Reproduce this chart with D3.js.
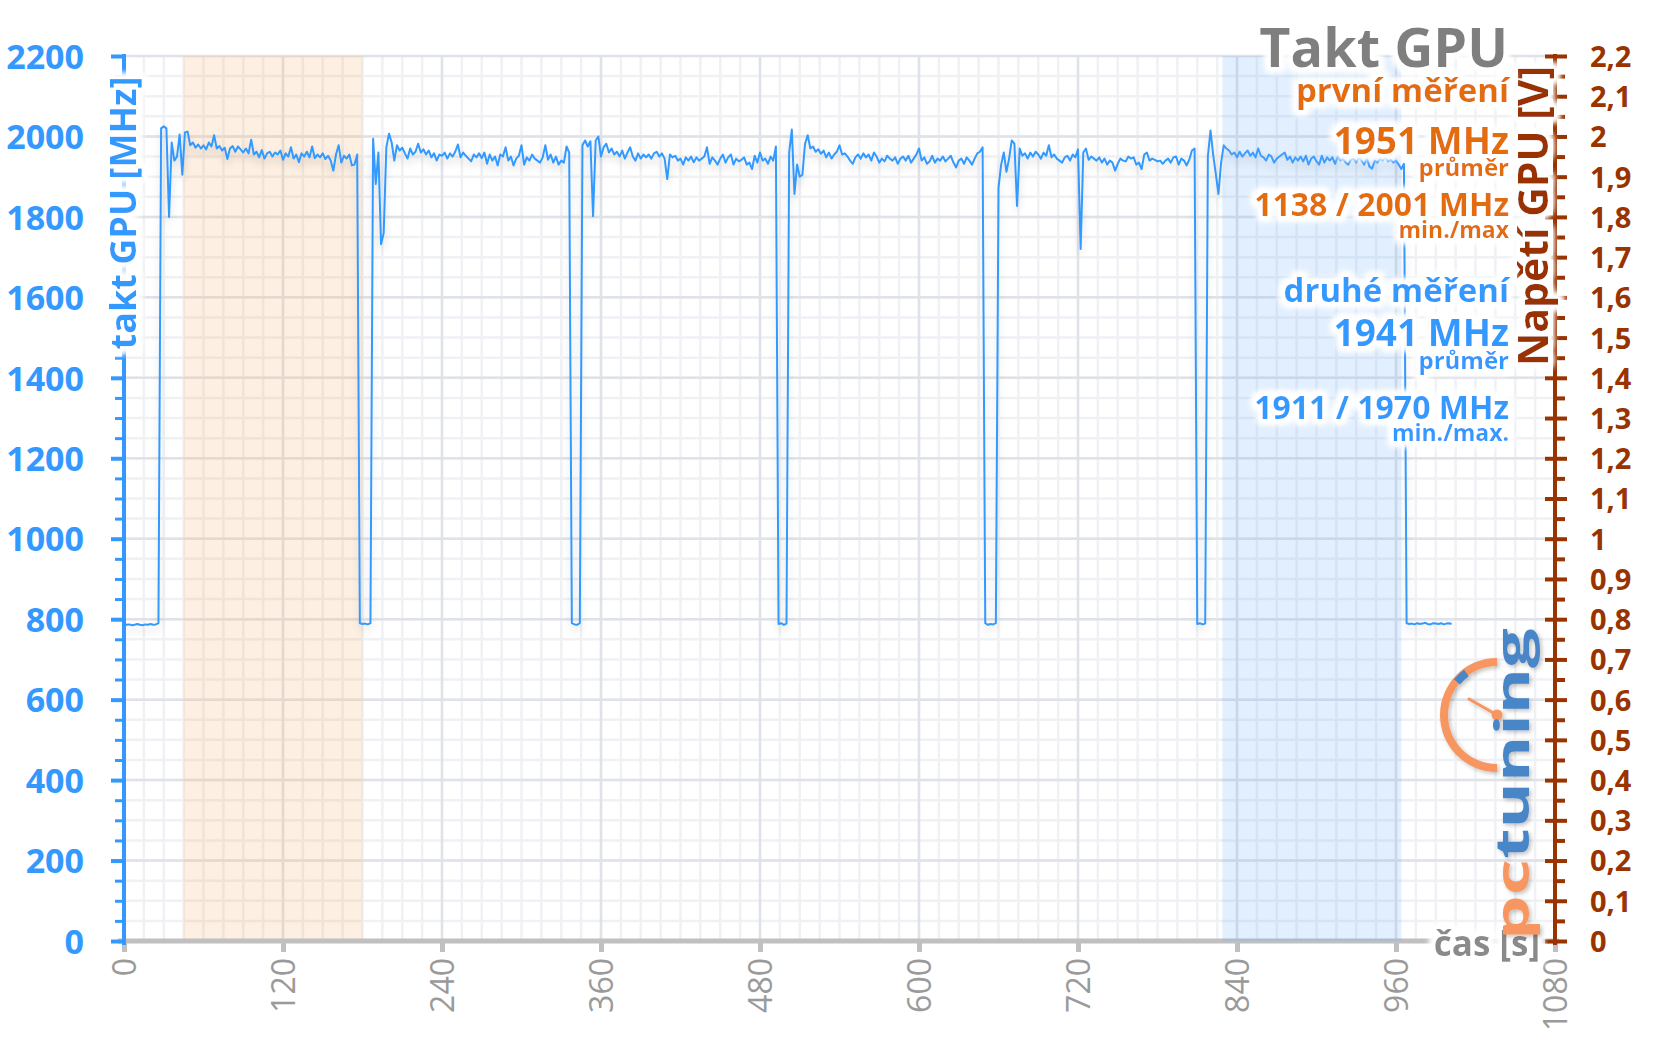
<!DOCTYPE html>
<html><head><meta charset="utf-8">
<script src="https://cdn.jsdelivr.net/npm/d3@7"></script>
<style>
html,body{margin:0;padding:0;background:#fff;}
svg{display:block;font-family:"Open Sans",sans-serif;}
</style></head><body>
<svg id="chart" width="1656" height="1044"></svg>
<script>
// ---------- data ----------
const timeTicks  = [0,120,240,360,480,600,720,840,960,1080];
const clockTicks = [0,200,400,600,800,1000,1200,1400,1600,1800,2000,2200];
const voltTicks  = [0,0.1,0.2,0.3,0.4,0.5,0.6,0.7,0.8,0.9,1,1.1,1.2,1.3,1.4,1.5,1.6,1.7,1.8,1.9,2,2.1,2.2];
const sampleStep = 2; // seconds between samples

const idleStart = [788,786,787,785,786,788,786,785,787,786,788,786,787,790];
const run1 = [2020,2025,2020,1800,1985,1940,1950,2005,1905,2010,2012,1978,1985,1972,1980,1970,1978,1968,1985,1975,
  2003,1970,1976,1965,1972,1944,1970,1976,1962,1975,1968,1960,1970,1958,1992,1955,1962,1948,1966,1945,
  1958,1962,1950,1960,1955,1965,1942,1958,1950,1973,1945,1955,1936,1958,1950,1962,1948,1975,1946,1955,
  1948,1958,1944,1952,1940,1915,1955,1978,1935,1952,1945,1955,1928,1930,1955];
const drop1 = [790,788,789,787,790];
const run2 = [1994,1882,1960,1732,1760,1973,2007,1985,1940,1978,1965,1972,1958,1945,1970,1955,1962,1982,1960,1968,
  1955,1965,1948,1958,1940,1955,1952,1960,1945,1958,1950,1962,1980,1948,1960,1952,1945,1938,1955,1948,
  1958,1946,1960,1932,1955,1940,1950,1928,1955,1950,1973,1940,1950,1928,1945,1952,1978,1930,1948,1940,
  1955,1945,1940,1935,1948,1978,1942,1955,1935,1950,1930,1940,1935,1975,1960];
const drop2 = [790,787,786,790];
const run3 = [1978,1990,1975,1988,1802,1990,2000,1950,1973,1982,1960,1970,1955,1962,1950,1965,1945,1960,1973,1950,
  1940,1958,1945,1955,1948,1955,1945,1958,1962,1950,1958,1945,1894,1955,1948,1952,1940,1945,1930,1948,
  1940,1950,1936,1948,1940,1945,1950,1973,1932,1948,1940,1930,1945,1955,1935,1948,1955,1930,1945,1938,
  1942,1948,1930,1935,1919,1952,1935,1960,1940,1945,1932,1950,1940,1975];
const drop3 = [788,790,786,789];
const run4 = [1960,2017,1857,1930,1900,1905,1982,2003,1970,1975,1962,1968,1957,1965,1948,1960,1945,1955,1962,1978,
  1955,1958,1950,1940,1932,1948,1955,1945,1958,1948,1955,1940,1960,1950,1935,1945,1938,1952,1945,1940,
  1948,1932,1945,1950,1940,1952,1935,1945,1955,1970,1940,1948,1932,1938,1952,1935,1945,1940,1950,1938,
  1945,1952,1935,1923,1940,1945,1932,1948,1940,1930,1945,1958,1962,1973];
const drop4 = [790,786,788,787,790];
const run5 = [1873,1930,1960,1912,1945,1990,1982,1827,1970,1952,1958,1945,1960,1950,1962,1955,1945,1960,1952,1978,
  1948,1955,1945,1940,1935,1948,1952,1940,1955,1948,1968,1720,1960,1970,1942,1950,1945,1940,1948,1935,
  1945,1930,1940,1935,1915,1932,1945,1940,1938,1950,1945,1948,1930,1935,1919,1955,1960,1940,1945,1942,
  1938,1940,1932,1940,1945,1935,1948,1950,1930,1945,1940,1928,1942,1965,1970];
const drop5 = [788,790,787,789];
const run6 = [1950,2015,1955,1907,1857,1935,1978,1970,1965,1955,1960,1948,1962,1950,1958,1965,1952,1960,1948,1970,
  1952,1948,1940,1955,1950,1935,1945,1950,1955,1960,1942,1950,1935,1948,1940,1950,1938,1952,1930,1945,
  1950,1938,1930,1952,1935,1948,1940,1948,1932,1950,1940,1945,1935,1930,1942,1945,1935,1948,1940,1930,
  1945,1925,1920,1940,1935,1945,1940,1948,1938,1942,1935,1940,1930,1919,1932];
const idleEnd = [790,788,789,787,790,788,789,791,788,787,790,789,788,790,787,789,790,788];

const firstWindow  = [45, 180];
const secondWindow = [829, 964];

const chartTitle = "Takt GPU";
const firstLines  = ["první měření","1951 MHz","průměr","1138 / 2001 MHz","min./max"];
const secondLines = ["druhé měření","1941 MHz","průměr","1911 / 1970 MHz","min./max."];
const leftTitle = "takt GPU [MHz]";
const rightTitle = "Napětí GPU [V]";
const xTitle = "čas [s]";

// ---------- build ----------
const segments = [idleStart,run1,drop1,run2,drop2,run3,drop3,run4,drop4,run5,drop5,run6,idleEnd];
const clock = segments.flat();
const series = clock.map((v,i)=>({t:i*sampleStep, v}));

const BLUE="#3399ff", BROWN="#993300", ORANGE="#e36c09";
const svg = d3.select("#chart");
const defs = svg.append("defs");
defs.html(`
<filter id="glow" x="-30%" y="-30%" width="160%" height="160%">
  <feMorphology in="SourceAlpha" operator="dilate" radius="4" result="d"/>
  <feGaussianBlur in="d" stdDeviation="3" result="b"/>
  <feFlood flood-color="#ffffff" result="w"/>
  <feComposite in="w" in2="b" operator="in" result="g"/>
  <feMerge><feMergeNode in="g"/><feMergeNode in="g"/><feMergeNode in="g"/><feMergeNode in="SourceGraphic"/></feMerge>
</filter>
<filter id="shadow" x="-5%" y="-20%" width="110%" height="150%">
  <feGaussianBlur in="SourceAlpha" stdDeviation="4"/>
  <feOffset dy="5" result="o"/>
  <feComponentTransfer result="s"><feFuncA type="linear" slope="0.16"/></feComponentTransfer>
  <feMerge><feMergeNode in="s"/><feMergeNode in="SourceGraphic"/></feMerge>
</filter>
<filter id="logoShadow" x="-30%" y="-10%" width="160%" height="120%">
  <feGaussianBlur in="SourceAlpha" stdDeviation="2"/>
  <feOffset dx="2" dy="2" result="o"/>
  <feComponentTransfer result="s"><feFuncA type="linear" slope="0.25"/></feComponentTransfer>
  <feMerge><feMergeNode in="s"/><feMergeNode in="SourceGraphic"/></feMerge>
</filter>`);

const x = d3.scaleLinear().domain([0,1080]).range([124,1555]);
const y = d3.scaleLinear().domain([0,2200]).range([941,56]);
const yV = d3.scaleLinear().domain([0,2.2]).range([941,56]);

// grid
const grid = svg.append("g");
grid.selectAll(".vmin").data(d3.range(0,1081,15)).join("line")
  .attr("x1",d=>x(d)).attr("x2",d=>x(d)).attr("y1",y(2200)).attr("y2",y(0))
  .attr("stroke","#eff1f4").attr("stroke-width",2.5);
grid.selectAll(".hmin").data(d3.range(0,2201,50)).join("line")
  .attr("x1",x(0)).attr("x2",x(1080)).attr("y1",d=>y(d)).attr("y2",d=>y(d))
  .attr("stroke","#eff1f4").attr("stroke-width",2.5);
grid.selectAll(".vmaj").data(timeTicks).join("line")
  .attr("x1",d=>x(d)).attr("x2",d=>x(d)).attr("y1",y(2200)).attr("y2",y(0))
  .attr("stroke","#dfe2e8").attr("stroke-width",2.5);
grid.selectAll(".hmaj").data(clockTicks).join("line")
  .attr("x1",x(0)).attr("x2",x(1080)).attr("y1",d=>y(d)).attr("y2",d=>y(d))
  .attr("stroke","#dfe2e8").attr("stroke-width",2.5);

// first window band (under the line)
svg.append("rect").attr("x",x(firstWindow[0])).attr("width",x(firstWindow[1])-x(firstWindow[0]))
  .attr("y",y(2200)).attr("height",y(0)-y(2200))
  .attr("fill","rgb(247,180,120)").attr("fill-opacity",0.22);

// x axis
const xAxis = svg.append("g").attr("transform",`translate(0,${y(0)})`)
  .call(d3.axisBottom(x).tickValues(timeTicks).tickSize(11).tickSizeOuter(0).tickPadding(0).tickFormat(d3.format("d")));
xAxis.select(".domain").attr("stroke","#c0c0c0").attr("stroke-width",5).attr("d",`M${x(0)-6},0H${x(1080)+4}`);
xAxis.selectAll(".tick line").attr("stroke","#c0c0c0").attr("stroke-width",5);
xAxis.selectAll(".tick text").attr("transform","rotate(-90)").attr("text-anchor","end")
  .attr("x",-17).attr("y",0).attr("dy","0.36em")
  .attr("fill","#9a9a9a").attr("font-size",32).attr("font-family","Open Sans");

// data line
const line = d3.line().x(d=>x(d.t)).y(d=>y(d.v));
svg.append("path").datum(series).attr("d",line).attr("fill","none")
  .attr("stroke",BLUE).attr("stroke-width",2).attr("stroke-linejoin","round").attr("filter","url(#shadow)");

// second window band (over the line)
svg.append("rect").attr("x",x(secondWindow[0])).attr("width",x(secondWindow[1])-x(secondWindow[0]))
  .attr("y",y(2200)).attr("height",y(0)-y(2200))
  .attr("fill","rgb(110,175,250)").attr("fill-opacity",0.2);

// left axis
const yMinor = d3.range(0,2201,50).filter(v=>v%200!==0);
const lMin = svg.append("g").attr("transform",`translate(${x(0)},0)`)
  .call(d3.axisLeft(y).tickValues(yMinor).tickSize(9).tickSizeOuter(0).tickFormat(""));
lMin.select(".domain").remove();
lMin.selectAll(".tick line").attr("stroke",BLUE).attr("stroke-width",3);
const lAx = svg.append("g").attr("transform",`translate(${x(0)},0)`)
  .call(d3.axisLeft(y).tickValues(clockTicks).tickSize(13).tickSizeOuter(0).tickPadding(27).tickFormat(d3.format("d")));
lAx.select(".domain").attr("stroke",BLUE).attr("stroke-width",4).attr("d",`M0,${y(0)+4}V${y(2200)-2}`);
lAx.selectAll(".tick line").attr("stroke",BLUE).attr("stroke-width",4);
lAx.selectAll(".tick text").attr("fill",BLUE).attr("font-size",34).attr("font-weight",700)
  .attr("font-family","Open Sans").attr("dy","0.36em");

// right axis
const czLocale = d3.formatLocale({decimal:",",thousands:" ",grouping:[3],currency:["",""]});
const vMinor = d3.range(0,45).map(i=>i*0.05).filter((v,i)=>i%2===1);
const rMin = svg.append("g").attr("transform",`translate(${x(1080)},0)`)
  .call(d3.axisRight(yV).tickValues(vMinor).tickSize(10).tickSizeOuter(0).tickFormat(""));
rMin.select(".domain").remove();
rMin.selectAll(".tick line").attr("stroke",BROWN).attr("stroke-width",4);
const rAx = svg.append("g").attr("transform",`translate(${x(1080)},0)`)
  .call(d3.axisRight(yV).tickValues(voltTicks).tickSize(12).tickSizeOuter(0).tickPadding(23).tickFormat(czLocale.format(".1~f")));
rAx.select(".domain").attr("stroke",BROWN).attr("stroke-width",4).attr("d",`M0,${y(0)+4}V${y(2200)-2}`);
rAx.selectAll(".tick line").attr("stroke",BROWN).attr("stroke-width",4).attr("x1",-10);
rAx.selectAll(".tick text").attr("fill",BROWN).attr("font-size",29).attr("font-weight",700)
  .attr("font-family","Open Sans").attr("dy","0.36em");

// axis titles
svg.append("text").text(leftTitle).attr("transform","translate(136,213) rotate(-90)")
  .attr("text-anchor","middle").attr("fill",BLUE).attr("font-size",36).attr("font-weight",700)
  .attr("filter","url(#glow)");
svg.append("text").text(rightTitle).attr("transform","translate(1548,216) rotate(-90)")
  .attr("text-anchor","middle").attr("fill",BROWN).attr("font-size",41).attr("font-weight",700)
  .attr("filter","url(#glow)");
svg.append("text").text(xTitle).attr("x",1540).attr("y",956)
  .attr("text-anchor","end").attr("fill","#8a8a8a").attr("font-size",35).attr("font-weight",700)
  .attr("filter","url(#glow)");

// title + annotations
const ann = svg.append("g").attr("text-anchor","end").attr("font-weight",700).attr("filter","url(#glow)");
ann.append("text").text(chartTitle).attr("x",1508).attr("y",67).attr("fill","#7f7f7f").attr("font-size",54);
const sizes = [33,37,24,32,23];
const firstY = [102,154,176,216,238];
const secondY = [302,346,369,419,441];
firstLines.forEach((s,i)=>ann.append("text").text(s).attr("x",1509).attr("y",firstY[i]).attr("fill",ORANGE).attr("font-size",sizes[i]));
secondLines.forEach((s,i)=>ann.append("text").text(s).attr("x",1509).attr("y",secondY[i]).attr("fill",BLUE).attr("font-size",sizes[i]));

// logo
const logo = svg.append("g").attr("filter","url(#logoShadow)");
const cx=1497, cy=715, r=53;
const arc = d3.arc().innerRadius(r-4).outerRadius(r+4);
logo.append("path").attr("transform",`translate(${cx},${cy})`)
  .attr("d",arc({startAngle:Math.PI, endAngle:2*Math.PI})).attr("fill","#f79660");
logo.append("path").attr("transform",`translate(${cx},${cy})`)
  .attr("d",d3.arc().innerRadius(r-5).outerRadius(r+3)({startAngle:1.72*Math.PI, endAngle:1.80*Math.PI})).attr("fill","#4a86c8");
logo.append("line").attr("x1",cx).attr("y1",cy).attr("x2",cx-28).attr("y2",cy-16)
  .attr("stroke","#f79660").attr("stroke-width",3).attr("stroke-linecap","round");
logo.append("circle").attr("cx",cx).attr("cy",cy).attr("r",5.5).attr("fill","#f79660");
const lt = logo.append("text").attr("transform","translate(1529,940) rotate(-90)")
  .attr("font-size",46).attr("font-weight",700).attr("textLength",312).attr("lengthAdjust","spacingAndGlyphs");
lt.append("tspan").text("pc").attr("fill","#f79660");
lt.append("tspan").text("tuning").attr("fill","#4a86c8");
</script>
</body></html>
